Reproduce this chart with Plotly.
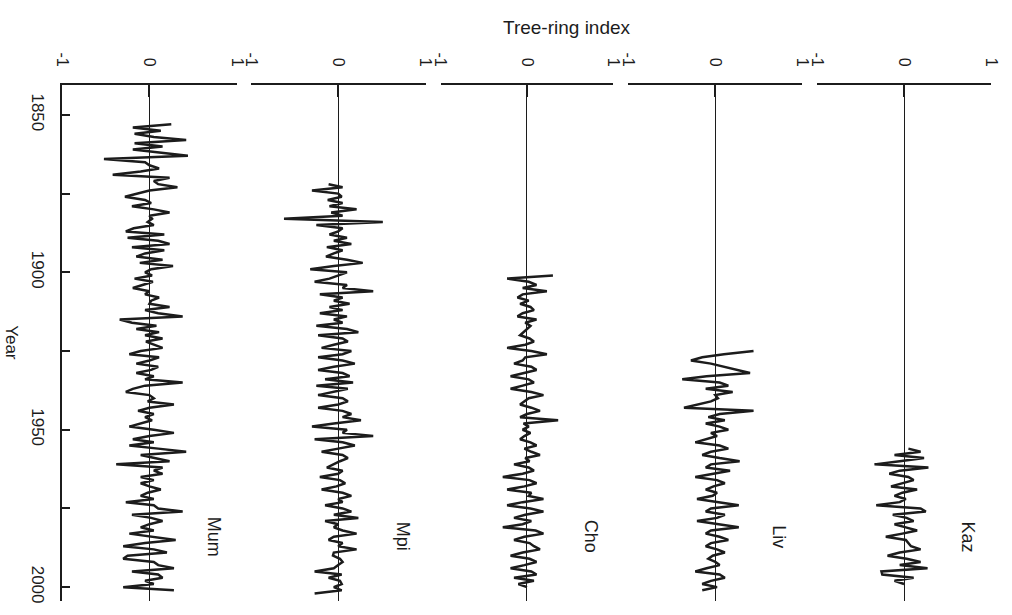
import plotly.graph_objects as go

# ---------------- data ----------------
site_names = ["Mum", "Mpi", "Cho", "Liv", "Kaz"]

mum_start = 1853
mum_values = [
    0.25, -0.19, 0.13, -0.17, 0.05, 0.42, -0.17, 0.15, -0.19, 0.10,
    0.44, -0.52, -0.05, 0.00, 0.11, -0.10, -0.42, 0.23, 0.05, 0.10,
    0.32, 0.00, -0.15, -0.28, -0.05, 0.02, -0.20, 0.05, 0.23, 0.00,
    0.03, -0.02, 0.05, -0.18, -0.27, 0.17, -0.25, 0.10, 0.23, -0.20,
    0.17, -0.05, -0.15, 0.15, -0.11, 0.27, 0.02, -0.05, 0.03, -0.17,
    0.04, -0.08, -0.19, 0.00, -0.05, 0.11, 0.02, 0.00, 0.23, -0.05,
    0.10, 0.38, -0.34, -0.20, 0.08, -0.15, 0.11, -0.05, 0.15, -0.04,
    0.05, 0.15, -0.10, -0.23, 0.11, 0.00, -0.15, 0.10, 0.02, -0.15,
    0.05, -0.05, 0.38, -0.05, -0.19, -0.27, 0.00, 0.05, -0.02, 0.28,
    0.00, -0.13, 0.05, -0.05, 0.03, -0.10, -0.23, 0.05, 0.28, 0.00,
    -0.19, 0.05, -0.23, 0.10, 0.42, -0.10, 0.05, 0.23, -0.38, 0.15,
    0.05, 0.15, -0.10, 0.05, -0.10, 0.00, 0.13, -0.02, -0.10, 0.05,
    -0.27, 0.05, 0.10, 0.38, -0.20, 0.02, 0.15, 0.00, -0.10, 0.05,
    -0.23, 0.05, 0.30, -0.05, -0.30, 0.05, 0.20, -0.25, -0.30, 0.05,
    0.10, 0.28, -0.20, 0.10, 0.15, -0.05, 0.05, -0.30, 0.28,
]

mpi_start = 1872
mpi_values = [
    -0.11, 0.05, -0.30, 0.00, 0.04, -0.12, 0.05, -0.10, 0.21, -0.08,
    0.05, -0.62, 0.51, -0.25, 0.05, 0.00, -0.10, 0.10, -0.05, 0.15,
    -0.13, 0.05, -0.05, -0.14, 0.10, 0.28, -0.05, -0.32, 0.10, 0.00,
    -0.10, -0.27, 0.10, 0.05, 0.40, -0.21, 0.05, -0.05, 0.13, -0.10,
    0.05, -0.21, 0.10, -0.05, 0.05, -0.25, 0.10, 0.23, -0.23, 0.05,
    0.11, -0.05, -0.19, 0.15, 0.05, -0.23, 0.05, 0.19, -0.05, -0.23,
    0.05, 0.13, -0.15, 0.17, -0.25, 0.11, -0.05, -0.23, 0.05, 0.11,
    0.00, -0.23, 0.05, 0.15, 0.05, 0.26, -0.05, -0.30, 0.10, 0.05,
    0.40, -0.27, 0.05, 0.19, 0.00, -0.19, 0.05, 0.11, 0.02, -0.05,
    -0.13, 0.05, 0.00, -0.21, 0.02, 0.08, -0.02, -0.19, 0.05, 0.15,
    0.00, 0.05, -0.15, 0.05, 0.15, -0.05, 0.23, -0.15, 0.00, -0.05,
    0.05, 0.21, -0.05, -0.11, 0.05, 0.00, 0.21, -0.05, -0.06, 0.02,
    0.05, 0.00, -0.05, -0.27, 0.04, -0.11, 0.02, 0.04, -0.05, 0.04,
    -0.27,
]

cho_start = 1901
cho_values = [
    0.30, -0.23, 0.02, 0.11, -0.05, 0.23, -0.05, -0.11, 0.02, -0.08,
    0.04, 0.08, -0.05, -0.11, 0.11, -0.02, 0.04, 0.00, -0.04, -0.08,
    0.03, 0.08, -0.02, -0.23, 0.05, 0.23, -0.02, -0.05, -0.15, 0.05,
    0.11, -0.05, -0.19, 0.02, 0.08, -0.05, -0.19, 0.05, 0.19, 0.02,
    -0.03, -0.08, 0.05, 0.15, 0.00, -0.08, 0.36, -0.04, 0.02, -0.05,
    0.04, -0.03, -0.08, 0.04, 0.11, -0.03, 0.05, 0.15, -0.02, 0.03,
    -0.15, 0.02, 0.08, -0.05, -0.28, 0.03, 0.11, -0.03, -0.23, 0.05,
    0.02, 0.19, -0.05, -0.23, 0.04, 0.19, -0.02, -0.15, 0.05, -0.05,
    -0.28, 0.10, 0.19, -0.03, -0.15, 0.03, 0.08, 0.15, -0.05, -0.19,
    0.03, 0.11, -0.03, -0.19, 0.05, 0.11, -0.15, 0.08, -0.10, 0.00,
]

liv_start = 1925
liv_values = [
    0.44, 0.10, -0.15, -0.28, -0.05, 0.10, 0.25, 0.40, -0.10, -0.38,
    0.05, 0.15, -0.11, 0.20, 0.00, 0.03, -0.05, -0.20, -0.36, 0.44,
    0.05, -0.08, 0.11, -0.11, 0.05, 0.15, -0.05, 0.02, -0.10, -0.23,
    0.05, 0.15, -0.05, -0.15, 0.05, 0.28, -0.05, -0.11, 0.17, -0.05,
    -0.23, 0.02, 0.11, -0.02, -0.11, 0.02, -0.03, -0.21, 0.05, 0.27,
    -0.05, -0.11, 0.11, 0.02, -0.21, 0.05, 0.27, -0.05, -0.11, 0.05,
    0.15, -0.05, -0.11, 0.02, 0.11, -0.03, -0.08, 0.00, 0.05, -0.10,
    -0.23, 0.05, 0.11, -0.05, -0.15, 0.02, -0.15,
]

kaz_start = 1956
kaz_values = [
    0.05, 0.19, -0.11, 0.23, -0.05, -0.34, 0.28, -0.05, -0.17, 0.05,
    0.11, -0.02, -0.15, 0.15, -0.02, -0.11, 0.02, -0.05, -0.32, 0.19,
    0.25, -0.13, 0.03, 0.11, -0.11, 0.02, 0.15, -0.02, -0.21, 0.02,
    0.05, 0.08, 0.19, -0.05, -0.19, 0.03, 0.19, -0.05, 0.27, -0.26,
    -0.25, 0.11, -0.11, 0.00,
]

index_ticks = [-1, 0, 1]
index_tick_labels = ["-1", "0", "1"]
year_ticks = [1850, 1875, 1900, 1925, 1950, 1975, 2000]
year_tick_labels = ["1850", "", "1900", "", "1950", "", "2000"]

# ---------------- layout geometry ----------------
W, H = 1012, 615
plot_left, plot_right, plot_top, plot_bottom = 62, 997, 85, 602
panel_px = [(62, 238), (252, 428), (443, 617), (632, 807), (822, 997)]
pw = plot_right - plot_left
ph = plot_bottom - plot_top
year_range = [2004.4, 1840.5]

FONT = "Liberation Sans, Arial, Helvetica, sans-serif"
INK = "#1c1c1c"

series = [
    (mum_start, mum_values),
    (mpi_start, mpi_values),
    (cho_start, cho_values),
    (liv_start, liv_values),
    (kaz_start, kaz_values),
]

fig = go.Figure()
layout_axes = {}
annotations = []
for i, (name, (start, vals)) in enumerate(zip(site_names, series)):
    k = "" if i == 0 else str(i + 1)
    years = [start + j for j in range(len(vals))]
    fig.add_trace(go.Scatter(
        x=vals, y=years, mode="lines",
        line=dict(color=INK, width=2.5),
        xaxis="x" + k, yaxis="y", showlegend=False, hoverinfo="skip",
    ))
    a, b = panel_px[i]
    layout_axes["xaxis" + k] = dict(
        domain=[(a - plot_left) / pw, (b - plot_left) / pw],
        range=[-1, 1], side="top", anchor="y",
        tickvals=index_ticks, ticktext=index_tick_labels, tickangle=90,
        ticks="inside", ticklen=12, tickwidth=1.5, tickcolor=INK,
        showline=True, linecolor=INK, linewidth=1.5,
        showgrid=False, zeroline=True, zerolinecolor=INK, zerolinewidth=1.2,
        tickfont=dict(family=FONT, size=16, color=INK),
        ticklabelstandoff=11,
        fixedrange=True,
    )
    annotations.append(dict(
        x=0.74, y=1984, xref="x" + k, yref="y", text=name, showarrow=False,
        textangle=90, xanchor="center", yanchor="middle",
        font=dict(family=FONT, size=18, color=INK),
    ))

annotations.append(dict(
    x=(570 - plot_left) / pw, y=(plot_bottom - 27) / ph, xref="paper", yref="paper",
    text="Tree-ring index", showarrow=False, xanchor="center", yanchor="middle",
    font=dict(family=FONT, size=19, color=INK),
))
annotations.append(dict(
    x=(11 - plot_left) / pw, y=(plot_bottom - 343) / ph, xref="paper", yref="paper",
    text="Year", showarrow=False, textangle=90, xanchor="center", yanchor="middle",
    font=dict(family=FONT, size=17, color=INK),
))

fig.update_layout(
    width=W, height=H,
    margin=dict(l=plot_left, r=W - plot_right, t=plot_top, b=H - plot_bottom),
    paper_bgcolor="white", plot_bgcolor="white",
    yaxis=dict(
        range=year_range, anchor="x", side="left",
        tickvals=year_ticks, ticktext=year_tick_labels, tickangle=90,
        ticks="inside", ticklen=8, tickwidth=1.5, tickcolor=INK,
        showline=True, linecolor=INK, linewidth=1.5,
        showgrid=False, zeroline=False,
        tickfont=dict(family=FONT, size=17, color=INK),
        ticklabelstandoff=8,
        fixedrange=True,
    ),
    annotations=annotations,
    **layout_axes,
)

fig.write_html(
    "out.html",
    config={"displayModeBar": False},
    post_script="document.body.style.margin='0';document.body.style.overflow='hidden';",
)
